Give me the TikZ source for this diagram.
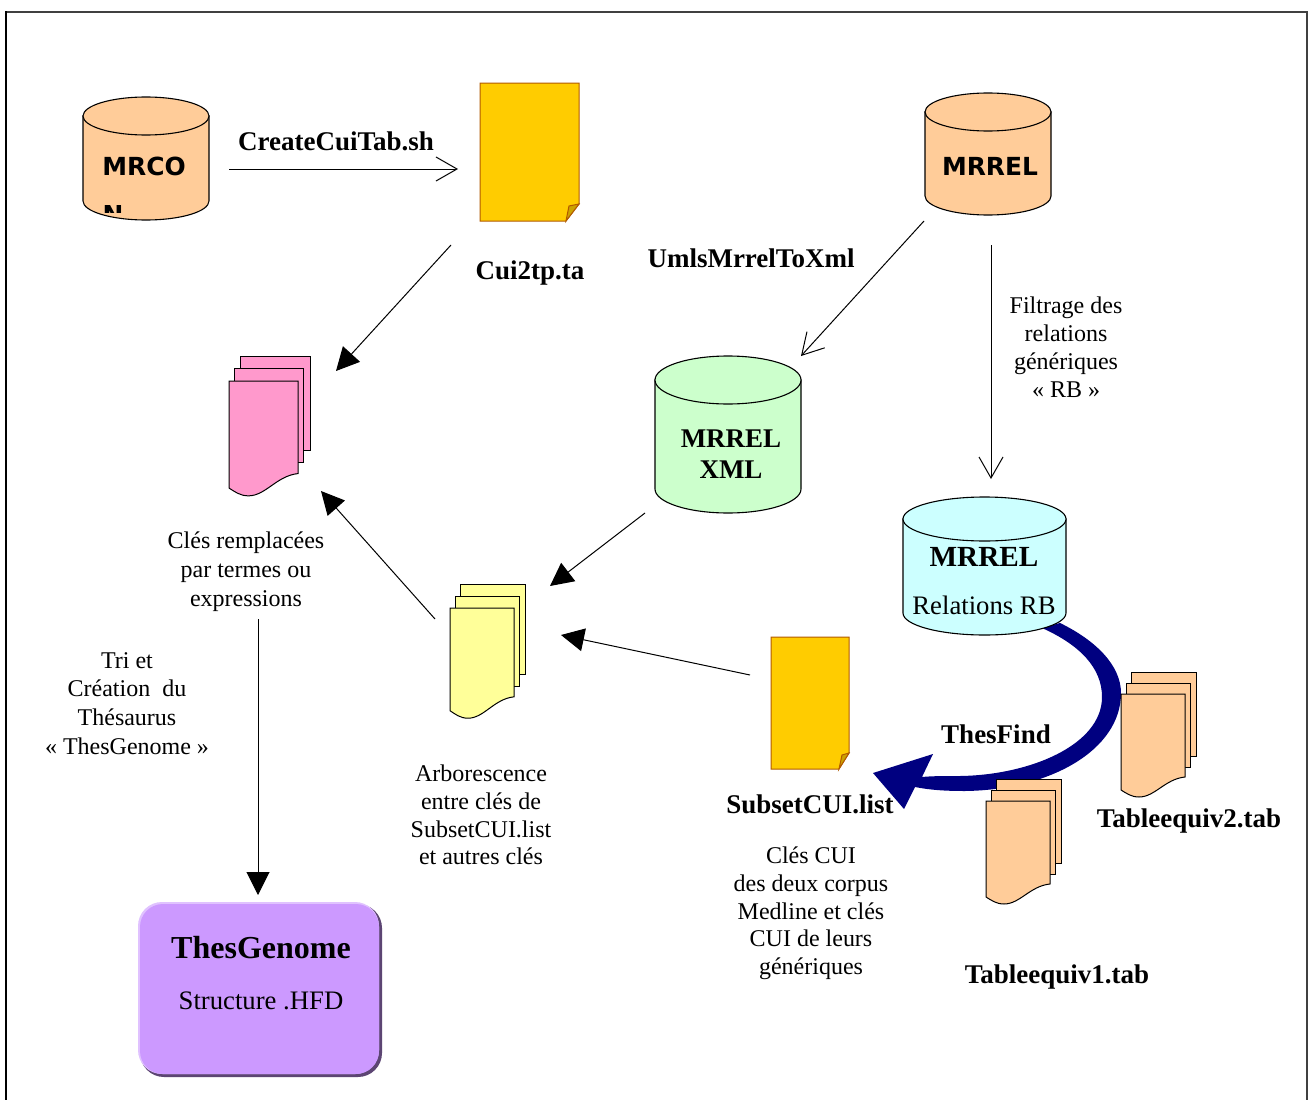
\documentclass[tikz,border=0pt]{standalone}
\usepackage{fontspec}
\setmainfont{Liberation Serif}
\newfontfamily\cylfont{DejaVu Sans}
\usetikzlibrary{arrows.meta,positioning}
\definecolor{docyellow}{HTML}{FFCC00}
\definecolor{docfold}{HTML}{CCA300}
\definecolor{docline}{HTML}{B25A00}
\definecolor{peach}{HTML}{FFCC99}
\definecolor{mint}{HTML}{CCFFCC}
\definecolor{paleblue}{HTML}{CCFFFF}
\definecolor{pinkdoc}{HTML}{FF99CC}
\definecolor{paleyellow}{HTML}{FFFF99}
\definecolor{lilac}{HTML}{CC99FF}
\definecolor{navyarc}{HTML}{000080}
\def\docstack#1#2#3#4#5#6{
	\begin{scope}[shift={(#1,#2)}, xscale=#5, yscale=#6]
	\draw[stackline, fill=#3] (10.5,-22) rectangle (75,62);
	\draw[stackline, fill=#3] (5.5,-11) rectangle (69,73);
	\draw[stackline, fill=#3] (0,0) -- (64,0) -- (64,83) .. controls (44,85) and (34,103) .. (18,103) .. controls (10,103) and (5,99) .. (0,96) -- cycle;
	\coordinate (#4) at (32,45);
	\end{scope}
}
\def\dbcyl#1#2#3#4#5#6#7{
	\draw[cylline, fill=#6] (#1,#2+#5) -- (#1,#2+#4-#5) arc[start angle=180, end angle=0, x radius=#3/2, y radius=#5] -- (#1+#3,#2+#5) -- cycle;
	\draw[cylline, fill=#6] (#1+#3/2,#2+#5) ellipse [x radius=#3/2, y radius=#5];
	\coordinate (#7) at (#1+#3/2,#2+#4/2);
}
\begin{document}
\begin{tikzpicture}[x=1pt, y=-1pt,
	txt/.style={font=\fontsize{24}{28}\selectfont, align=center, inner sep=0pt},
	txtbig/.style={font=\fontsize{26.7}{30}\selectfont, inner sep=0pt},
	txtb/.style={font=\fontsize{27}{31}\selectfont\bfseries, align=center, inner sep=0pt},
	big/.style={font=\fontsize{32}{36}\selectfont\bfseries, inner sep=0pt},
	cyllabel/.style={font=\cylfont\fontsize{24.9}{28}\selectfont\bfseries, inner sep=0pt},
	cylline/.style={draw=black, line width=1.1pt},
	stackline/.style={draw=black, line width=1pt},
	sheet/.style={draw=docline, line width=1pt, fill=docyellow},
	openhead/.style={draw=black, line width=1pt, -{Straight Barb[length=21pt,width=24pt,line width=1pt]}},
	solidhead/.style={draw=black, line width=1pt, -{Triangle[length=23pt,width=23pt]}}
]
\useasboundingbox (0,0) rectangle (1310,1100);
\fill[white] (0,0) rectangle (1310,1100);
\draw[black!75, line width=1.3pt] (6,12) -- (1307,12) -- (1307,1100);
\draw[black, line width=1.5pt] (6,1100) -- (6,11.4);

\fill[navyarc] (1042,628) .. controls (1080,645) and (1102,668) .. (1102,697) .. controls (1102,745) and (1030,775) .. (960,776) .. controls (945,776) and (932,776) .. (922,777) -- (933,754) -- (873,773) -- (904,809) -- (915,787) .. controls (930,790) and (945,791) .. (965,791) .. controls (1050,790) and (1121,750) .. (1121,693) .. controls (1121,665) and (1095,640) .. (1060,623) -- cycle;

\dbcyl{83}{97}{126}{123}{19}{peach}{mrcon}
\dbcyl{925}{93}{126}{122}{19}{peach}{mrrel}
\dbcyl{655}{356}{146}{157}{24}{mint}{mrrelxml}
\dbcyl{903}{497}{163}{138}{22}{paleblue}{mrrelrb}

\node[cyllabel] (mrconlabel) at (144,166) {MRCO};
\begin{scope}
	\clip (90,205) rectangle (200,212);
	\node[cyllabel] (mrconrest) at (113,214.5) {N};
\end{scope}
\node[cyllabel] (mrrellabel) at (990,166) {MRREL};

\draw[sheet] (480,83) -- (579,83) -- (579,204) -- (566,221) -- (480,221) -- cycle;
\draw[sheet, fill=docfold] (579,204) -- (569,206) -- (566,221) -- cycle;
\draw[sheet] (771,637) -- (849,637) -- (849,753) -- (839,769) -- (771,769) -- cycle;
\draw[sheet, fill=docfold] (849,753) -- (842,755) -- (839,769) -- cycle;
\coordinate (cuitab) at (458,169);
\coordinate (subsetsheet) at (750,675);

\docstack{229}{381}{pinkdoc}{keysstack}{1.08}{1.115}
\docstack{450}{608}{paleyellow}{treestack}{1}{1.07}
\docstack{1121}{694}{peach}{equivtwo}{1}{1}
\docstack{986}{801}{peach}{equivone}{1}{1}

\fill[black!55!lilac, rounded corners=24pt] (140,904) rectangle (382,1077);
\fill[lilac!60!white, rounded corners=24pt] (138,902) rectangle (379,1074);
\node[fill=lilac, rounded corners=23pt, minimum width=239pt, minimum height=170pt, inner sep=0pt] (thesgenome) at (259.5,989) {};

\coordinate (mrconout) at (229,169);
\coordinate (cuiout) at (451,245);
\coordinate (keysin) at (336,371);
\coordinate (mrrelleft) at (924,221);
\coordinate (xmlin) at (801,356);
\coordinate (mrreldown) at (991,245);
\coordinate (rbin) at (991,479);
\coordinate (xmlout) at (645,513);
\coordinate (treein) at (550,586);
\coordinate (treeout) at (435,619);
\coordinate (keysunder) at (321,491);
\coordinate (treeright) at (561,635);
\coordinate (keysout) at (258,619);
\coordinate (thesin) at (258,895);

\draw[openhead] (mrconout) -- (cuitab);
\draw[solidhead] (cuiout) -- (keysin);
\draw[openhead] (mrrelleft) -- (xmlin);
\draw[openhead] (mrreldown) -- (rbin);
\draw[solidhead] (xmlout) -- (treein);
\draw[solidhead] (treeout) -- (keysunder);
\draw[solidhead] (subsetsheet) -- (treeright);
\draw[solidhead] (keysout) -- (thesin);

\node[txtb] (createcui) at (336,141) {CreateCuiTab.sh};
\node[txtb] (cuilabel) at (530,273.5) {Cui2tp.ta};
\node[txtb] (umlslabel) at (751,258) {UmlsMrrelToXml};
\node[txt] (filtrage) at (1066,347.5) {Filtrage des\\relations\\génériques\\« RB »};
\node[txtb] (xmllabel) at (731,454) {MRREL\\XML};
\node[big, font=\fontsize{29.2}{34}\selectfont\bfseries] (rblabel) at (984,557) {MRREL};
\node[txtbig] (rbsub) at (984,605) {Relations RB};
\node[txt, font=\fontsize{24}{29}\selectfont] (cles) at (246,571.5) {Clés remplacées\\par termes ou\\expressions};
\node[txt, font=\fontsize{24}{28.7}\selectfont] (tri) at (127,703.5) {Tri et\\Création~ du\\Thésaurus\\« ThesGenome »};
\node[txt, font=\fontsize{24}{27.7}\selectfont] (arbo) at (481,815) {Arborescence\\entre clés de\\SubsetCUI.list\\et autres clés};
\node[txtb] (subset) at (810,804) {SubsetCUI.list};
\node[txt, font=\fontsize{24}{27.7}\selectfont] (clescui) at (811,913.5) {Clés CUI\\des deux corpus\\Medline et clés\\CUI de leurs\\génériques};
\node[txtb] (thesfind) at (996,734) {ThesFind};
\node[txtb] (equivtwolabel) at (1189,820.5) {Tableequiv2.tab};
\node[txtb] (equivonelabel) at (1057,976.5) {Tableequiv1.tab};
\node[big] (theslabel) at (261,948) {ThesGenome};
\node[txtbig] (thessub) at (261,1000.5) {Structure .HFD};
\end{tikzpicture}
\end{document}
